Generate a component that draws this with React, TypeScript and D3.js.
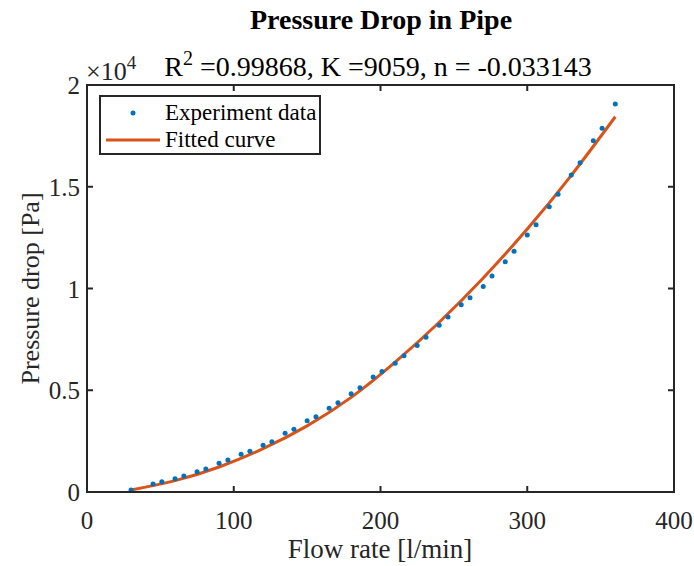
import React from "react";
import * as d3 from "d3";

const flowRates = [30, 45, 51, 60, 66, 75, 81, 90, 96, 105, 111, 120, 126, 135, 141, 150, 156, 165, 171, 180, 186, 195, 201, 210, 216, 225, 231, 240, 246, 255, 261, 270, 276, 285, 291, 300, 306, 315, 321, 330, 336, 345, 351, 360];
const pressures = [100, 390, 500, 650, 790, 1000, 1130, 1410, 1570, 1850, 2000, 2300, 2470, 2890, 3080, 3500, 3700, 4110, 4390, 4830, 5120, 5650, 5920, 6330, 6700, 7200, 7600, 8200, 8600, 9200, 9550, 10100, 10620, 11320, 11830, 12630, 13130, 14020, 14630, 15580, 16180, 17260, 17870, 19070];

const fitFlow = [30, 60, 90, 120, 150, 180, 210, 240, 270, 300, 330, 360];
const fitPressure = [100, 560, 1230, 2130, 3250, 4650, 6380, 8340, 10520, 12920, 15560, 18440];

const xTicks = [0, 100, 200, 300, 400];
const yTicks = [0, 5000, 10000, 15000, 20000];
const yTickLabels = ["0", "0.5", "1", "1.5", "2"];

const FONT = "'Liberation Serif', 'Times New Roman', serif";
const BLUE = "#0072BD";
const ORANGE = "#D95319";

export default function App() {
  const W = 694, H = 566;
  const L = 87, R = 674, T = 85, B = 492;
  const x = d3.scaleLinear().domain([0, 400]).range([L, R]);
  const y = d3.scaleLinear().domain([0, 20000]).range([B, T]);
  const line = d3.line<number>()
    .x((_, i) => x(fitFlow[i]))
    .y((d) => y(d))
    .curve(d3.curveNatural);
  const tl = 6;
  return (
    <svg width={W} height={H} style={{ position: "absolute", left: 0, top: 0, background: "#fff" }} fontFamily={FONT}>
      <rect x={0} y={0} width={W} height={H} fill="#fff" />
      <text x={381} y={29} textAnchor="middle" fontSize={28} fontWeight="bold" fill="#000">Pressure Drop in Pipe</text>
      <text x={378} y={76} textAnchor="middle" fontSize={28} fill="#000">
        R<tspan dy={-11} fontSize={20}>2</tspan><tspan dy={11}> =0.99868, K =9059, n = -0.033143</tspan>
      </text>
      {/* exponent */}
      <text x={86} y={80} fontSize={26} fill="#262626">
        ×10<tspan dy={-11} fontSize={19}>4</tspan>
      </text>
      {/* data */}
      <path d={line(fitPressure) || ""} fill="none" stroke={ORANGE} strokeWidth={3} />
      {flowRates.map((q, i) => (
        <circle key={i} cx={x(q)} cy={y(pressures[i])} r={2.5} fill={BLUE} />
      ))}
      {/* box */}
      <rect x={L} y={T} width={R - L} height={B - T} fill="none" stroke="#262626" strokeWidth={2} />
      {xTicks.map((t) => (
        <g key={"x" + t}>
          <line x1={x(t)} x2={x(t)} y1={B} y2={B - tl} stroke="#262626" strokeWidth={2} />
          <line x1={x(t)} x2={x(t)} y1={T} y2={T + tl} stroke="#262626" strokeWidth={2} />
          <text x={x(t)} y={B + 37} textAnchor="middle" fontSize={25} fill="#262626">{t}</text>
        </g>
      ))}
      {yTicks.map((t, i) => (
        <g key={"y" + t}>
          <line x1={L} x2={L + tl} y1={y(t)} y2={y(t)} stroke="#262626" strokeWidth={2} />
          <line x1={R} x2={R - tl} y1={y(t)} y2={y(t)} stroke="#262626" strokeWidth={2} />
          <text x={L - 7} y={y(t) + 9} textAnchor="end" fontSize={25} fill="#262626">{yTickLabels[i]}</text>
        </g>
      ))}
      <text x={380} y={558} textAnchor="middle" fontSize={27} fill="#262626">Flow rate [l/min]</text>
      <text transform={`translate(39,${(T + B) / 2}) rotate(-90)`} textAnchor="middle" fontSize={26} fill="#262626">Pressure drop [Pa]</text>
      {/* legend */}
      <rect x={100} y={96} width={220} height={58} fill="#fff" stroke="#262626" strokeWidth={2} />
      <circle cx={133} cy={113} r={2.5} fill={BLUE} />
      <line x1={106} x2={160} y1={140} y2={140} stroke={ORANGE} strokeWidth={3} />
      <text x={165} y={120} fontSize={23} fill="#000">Experiment data</text>
      <text x={165} y={147} fontSize={23} fill="#000">Fitted curve</text>
    </svg>
  );
}
